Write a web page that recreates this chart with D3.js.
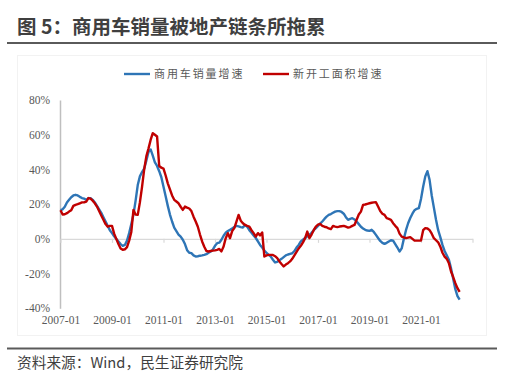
<!DOCTYPE html>
<html><head><meta charset="utf-8">
<script src="https://cdn.jsdelivr.net/npm/d3@7/dist/d3.min.js"></script>
<style>
html,body{margin:0;padding:0;background:#fff;}
svg{display:block;}
</style></head>
<body><svg id="c" width="511" height="378"></svg>
<script>
const title = "图 5：商用车销量被地产链条所拖累";
const source = "资料来源：Wind，民生证券研究院";
const seriesNames = ["商用车销量增速", "新开工面积增速"];
const startMonth = "2007-01";
const xTickLabels = ["2007-01","2009-01","2011-01","2013-01","2015-01","2017-01","2019-01","2021-01"];
const yTicks = [-40,-20,0,20,40,60,80];

const salesGrowth = [
16.5,17,18.5,21,22.5,24,25,25.4,25,24.2,23.5,23.2,22.5,23.5,23.5,22.5,21,19,17,15,
12.5,10,7.5,5,3.3,1.5,0,-1.5,-3,-4,-3.5,-1,3.3,8.5,14,22,31,36,38.5,40.5,
45,50,51.5,48,44,42,39,35.5,30,24.5,19,14,10,6.5,4.5,2.5,1.3,-0.5,-3,-6.5,
-8,-8.2,-9.5,-10.2,-10,-9.7,-9.5,-9.2,-8.8,-8,-7.3,-6.2,-4,-2.5,-2.2,-0.5,1.8,3.5,4.5,5.2,
6,6.8,7.5,7.2,6.8,6.5,8,7,5,3.5,2,0.5,-1.5,-3.5,-5,-6.8,-8,-9.2,-10.2,-12,
-13.6,-13.2,-12.3,-11.5,-10.5,-9.5,-9,-8.6,-8.3,-7,-5,-3.5,-1.5,-0.5,0.5,1.5,2.3,3.5,5,6.2,
7.5,8.8,10,11.5,12.8,13.8,14.3,15,15.7,16,16,15.5,14.5,12.5,11,11.5,11.9,11.2,10,8.5,
7,6,5.2,4.8,4.6,5.2,4,2.3,0.5,-1.2,-2.3,-2.9,-2.3,-1.5,-0.8,-1,-3,-5,-7.3,-5.5,
0,5,9,12,14.5,16.5,17.3,17.7,23,30,36,39,34,25,18,11,5,1,-3.5,-7,
-9.5,-12,-17,-23,-29,-33,-35];

const newStartsGrowth = [
16.5,14,14.2,14.8,15.7,16.5,19,19.6,20,20.5,21,21,21.5,23.5,23.2,22,20.5,18.6,16,13.5,
11,8.5,7,7.5,7.5,3,0,-3,-5.5,-6.3,-6,-4.8,-1,4,16.7,14,13.8,21,30,40,
47.5,52,57,60.9,60,59,42,41,40.5,36.5,32,28.5,25,22.5,21.5,20.5,18.5,16.7,18.6,18,
17.5,16,12.8,10,7,2.5,-1.5,-4.5,-7,-7.3,-7,-6.8,-6.6,-6.3,-5.8,-7.2,-4.4,0.4,3.3,0.4,
4.5,6.2,10,13.8,10.5,9,8,7.5,7.1,5,3.3,1.3,3.3,2,3.7,-10.2,-9.5,-9.2,-9.2,-9.3,
-10,-11.1,-13,-14.5,-15.9,-14.8,-14,-13,-11.5,-9.5,-7.5,-5.5,-4,-2,0.4,4.2,0.4,2.5,5,7.1,
8.2,8.6,7.5,7,6.7,6,5.6,7.5,7.1,6.8,7.1,7.3,7.5,7,6.5,6.8,7.5,8,11,14,
15.7,19.6,19.8,20.2,20.5,20.8,21,21.1,18.6,16,14.5,13.8,11.9,11.5,11,9,7.5,6.2,3,1.3,
0.8,0.4,0.7,1,0,-1,-1,-1,-1,5,6.2,6,5,3,0.4,-0.8,-2,-4.5,-8,-10.2,
-11.5,-14,-18.8,-22,-25.5,-28.4,-30.5];

const colors = ["#2e75b6", "#c00000"];

const svg = d3.select("#c");

// title
svg.append("text").attr("x", 17).attr("y", 34)
  .attr("font-family", "'Noto Sans CJK SC', sans-serif").attr("font-weight", "bold")
  .attr("font-size", 19.5).attr("fill", "#3f3f3f").text(title);
svg.append("line").attr("x1", 7).attr("x2", 497).attr("y1", 43).attr("y2", 43)
  .attr("stroke", "#5a5a5a").attr("stroke-width", 2);

// faint chart frame
svg.append("rect").attr("x", 17.5).attr("y", 55.5).attr("width", 469).attr("height", 280)
  .attr("fill", "none").attr("stroke", "#f2f2f2").attr("stroke-width", 1);

// source
svg.append("line").attr("x1", 7).attr("x2", 497).attr("y1", 348.5).attr("y2", 348.5)
  .attr("stroke", "#5a5a5a").attr("stroke-width", 2);
svg.append("text").attr("x", 17).attr("y", 368)
  .attr("font-family", "'Noto Sans CJK SC', sans-serif")
  .attr("font-size", 14.7).attr("fill", "#3f3f3f").text(source);

const parse = d3.timeParse("%Y-%m");
const t0 = parse(startMonth);

const x = d3.scaleLinear().domain([0, 192]).range([60.5, 472.5]);
const y = d3.scaleLinear().domain([-40, 80]).range([308.3, 100]);

// y axis
const yAxis = d3.axisLeft(y).tickValues(yTicks).tickSize(0).tickPadding(10)
  .tickFormat(d => d + "%");
const gy = svg.append("g").attr("transform", "translate(60,0)").call(yAxis);
gy.select(".domain").attr("stroke", "#bfbfbf").attr("stroke-width", 1.5);
gy.selectAll("text").attr("font-family", "'Liberation Serif', serif").attr("font-size", 11.5)
  .attr("fill", "#595959");

// zero line with ticks
const tickIdx = d3.range(0, 193, 24);
const xAxis0 = d3.axisBottom(x).tickValues(tickIdx).tickSizeInner(4).tickSizeOuter(0)
  .tickFormat("");
const gx0 = svg.append("g").attr("transform", `translate(0,${y(0)})`).call(xAxis0);
gx0.select(".domain").attr("stroke", "#d9d9d9").attr("stroke-width", 1.2);
gx0.selectAll(".tick line").attr("stroke", "#d9d9d9").attr("stroke-width", 1.2);

// bottom labels
const labelIdx = xTickLabels.map(s => d3.timeMonth.count(t0, parse(s)));
const xAxisL = d3.axisBottom(x).tickValues(labelIdx).tickSize(0)
  .tickFormat((d, i) => xTickLabels[i]);
const gxl = svg.append("g").attr("transform", "translate(0,313)").call(xAxisL);
gxl.select(".domain").remove();
gxl.selectAll("text").attr("font-family", "'Liberation Serif', serif").attr("font-size", 11.5)
  .attr("fill", "#595959");

// lines (blue first, red on top)
const line = d3.line().x((d, i) => x(i)).y(d => y(d)).curve(d3.curveLinear);
[salesGrowth, newStartsGrowth].forEach((s, k) => {
  svg.append("path").datum(s).attr("d", line).attr("fill", "none")
    .attr("stroke", colors[k]).attr("stroke-width", 2.4).attr("stroke-linejoin", "round");
});

// legend
const legend = [[124, 150, 154], [263, 289, 293]];
seriesNames.forEach((nm, k) => {
  const [a, b, tx] = legend[k];
  svg.append("line").attr("x1", a).attr("x2", b).attr("y1", 74).attr("y2", 74)
    .attr("stroke", colors[k]).attr("stroke-width", 2.4);
  svg.append("text").attr("x", tx).attr("y", 78)
    .attr("font-family", "'Noto Sans CJK SC', sans-serif").attr("font-size", 11)
    .attr("letter-spacing", 1.9).attr("fill", "#595959").text(nm);
});
</script></body></html>
